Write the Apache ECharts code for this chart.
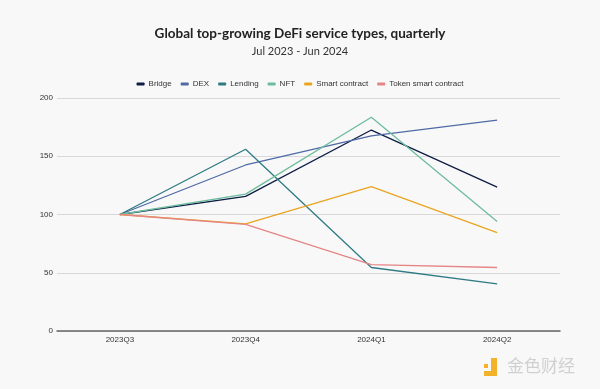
<!DOCTYPE html>
<html><head><meta charset="utf-8">
<script src="https://cdn.jsdelivr.net/npm/echarts@6/dist/echarts.min.js"></script>
<style>html,body{margin:0;padding:0;background:#f8f8f8}#c{width:600px;height:389px}</style>
</head><body><div id="c"></div>
<script>
const categories = ['2023Q3','2023Q4','2024Q1','2024Q2'];
const bridge = [100, 115.5, 172.5, 123.5];
const dex = [100, 142.5, 167.5, 181];
const lending = [100, 156, 54.5, 40.5];
const nft = [100, 117.5, 183.5, 94];
const smartContract = [100, 92, 124, 84.5];
const tokenSmartContract = [100, 91.5, 57, 54.5];
const yTicks = [0, 50, 100, 150, 200];

const names = ['Bridge','DEX','Lending','NFT','Smart contract','Token smart contract'];
const colors = ['#0e1d45','#4f6aa6','#2f7b84','#6dbc9d','#eaa520','#e58585'];
const datas = [bridge, dex, lending, nft, smartContract, tokenSmartContract];

const chart = echarts.init(document.getElementById('c'));
chart.setOption({
  backgroundColor: '#f8f8f8',
  animation: false,
  title: {
    text: 'Global top-growing DeFi service types, quarterly',
    subtext: 'Jul 2023 - Jun 2024',
    left: 'center', top: 22, itemGap: 5,
    textStyle: {fontFamily: 'Lato', fontWeight: 'bold', fontSize: 13.5, color: '#222'},
    subtextStyle: {fontFamily: 'Lato', fontSize: 11, color: '#333'}
  },
  legend: {
    top: 75, left: 'center', itemWidth: 8, itemHeight: 3, itemGap: 9,
    icon: 'roundRect',
    textStyle: {fontFamily: 'Liberation Sans', fontSize: 8, color: '#333', padding: [0,0,0,-1]},
    data: names
  },
  grid: {left: 57, right: 40, top: 98, bottom: 58},
  xAxis: {
    type: 'category', data: categories, boundaryGap: true,
    axisLine: {lineStyle: {color: '#666', width: 1.5}},
    axisTick: {show: false},
    axisLabel: {fontFamily: 'Liberation Sans', fontSize: 8, color: '#333', margin: 5}
  },
  yAxis: {
    type: 'value', min: 0, max: 200, interval: 50,
    axisLine: {show: false}, axisTick: {show: false},
    splitLine: {lineStyle: {color: '#d8d8d8', width: 1}},
    axisLabel: {fontFamily: 'Liberation Sans', fontSize: 8, color: '#333', margin: 4,
      formatter: v => yTicks.includes(v) ? String(v) : ''}
  },
  series: datas.map((d, i) => ({
    name: names[i], type: 'line', data: d, symbol: 'none',
    lineStyle: {color: colors[i], width: 1.3},
    itemStyle: {color: colors[i]}
  })),
  graphic: [
    {type: 'rect', shape: {x: 484, y: 364, width: 4, height: 4}, style: {fill: '#f2b22a'}},
    {type: 'rect', shape: {x: 491, y: 358, width: 6, height: 18}, style: {fill: '#f2b22a'}},
    {type: 'rect', shape: {x: 484, y: 371, width: 13, height: 5}, style: {fill: '#f2b22a'}},
    {type: 'text', left: 507, top: 357, style: {text: '金色财经', font: '17px "Noto Sans CJK SC"', fill: '#d0d0d0'}}
  ]
});
</script></body></html>
